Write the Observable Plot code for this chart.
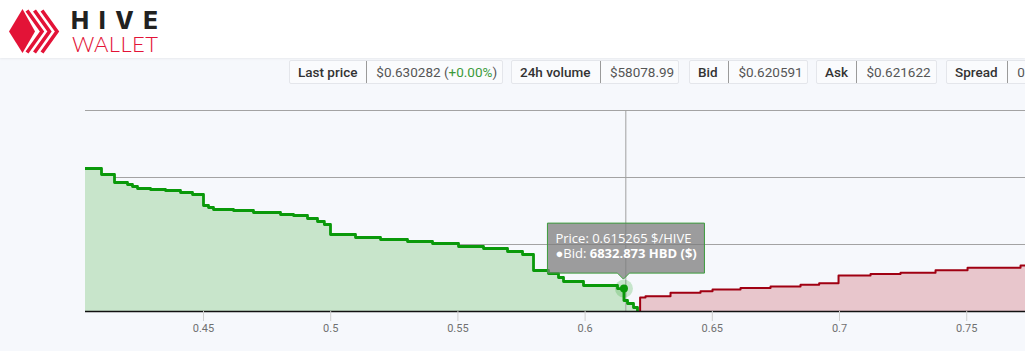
<!DOCTYPE html>
<html>
<head>
<meta charset="utf-8">
<script src="https://cdn.jsdelivr.net/npm/d3@7"></script>
<script src="https://cdn.jsdelivr.net/npm/@observablehq/plot@0.6"></script>
<style>
  html, body { margin: 0; padding: 0; }
  body { width: 1025px; height: 351px; overflow: hidden; position: relative; background: #f6f8fc; font-family: Roboto, "Noto Sans", sans-serif; }
  #header { position: absolute; left: 0; top: 0; width: 1025px; height: 58px; background: #fff; box-shadow: 0 1px 2px rgba(0,0,0,0.06); }
  .stat { position: absolute; top: 60px; height: 24px; display: flex; background: #fafbfd; border: 1px solid #e4e6eb; border-radius: 2px; box-sizing: border-box; font-size: 13.5px; line-height: 22px; white-space: nowrap; overflow: hidden; }
  .stat .lab { box-sizing: border-box; padding-left: 8px; color: #333; font-weight: 500; }
  .stat .val { box-sizing: border-box; padding-left: 9px; color: #555; border-left: 1px solid #9a9a9a; margin: 0; }
  .stat .pos { color: #3a9a3a; }
  #chart { position: absolute; left: 0; top: 90px; }
</style>
</head>
<body>
<div id="header">
  <svg width="200" height="58" style="position:absolute;left:0;top:0">
    <polygon points="9,31.5 22.5,9 35,31.5 22.5,53" fill="#e31337"/>
    <polyline points="27,10.5 42,31.5 27,52.5" fill="none" stroke="#e31337" stroke-width="3.6"/>
    <polyline points="34.5,10.5 49.5,31.5 34.5,52.5" fill="none" stroke="#e31337" stroke-width="3.6"/>
    <polyline points="42,10.5 57,31.5 42,52.5" fill="none" stroke="#e31337" stroke-width="3.6"/>
    <text x="71" y="28.5" font-family="Inter, 'DejaVu Sans', sans-serif" font-weight="800" font-size="24" fill="#212121" textLength="87" lengthAdjust="spacing">HIVE</text>
    <text x="72" y="52" font-family="Lato, 'Open Sans', sans-serif" font-weight="300" font-size="22" fill="#e31337" textLength="86" lengthAdjust="spacing">WALLET</text>
  </svg>
</div>
<div id="stats"></div>
<div id="chart"></div>
<script>
// ---- data ----
const statLabels = ["Last price", "24h volume", "Bid", "Ask", "Spread"];
const statValues = ["$0.630282", "$58078.99", "$0.620591", "$0.621622", "0.166%"];
const lastChange = "+0.00%";

// bid depth (price, cumulative HBD), level to the left of each price
const bidPrices = [0.40, 0.40991, 0.41502, 0.42013, 0.42209, 0.42406, 0.42917, 0.43506, 0.44096, 0.44568, 0.45000, 0.45197, 0.45393, 0.46179, 0.46965, 0.48027, 0.48538, 0.49088, 0.49481, 0.49750, 0.49992, 0.50975, 0.51958, 0.53019, 0.54002, 0.55024, 0.56006, 0.56950, 0.57540, 0.57972, 0.58561, 0.58954, 0.59151, 0.59937, 0.61274, 0.615265, 0.61667, 0.61902, 0.620591, 0.620591];
const bidVolumes = [42686, 42686, 40895, 38507, 37910, 37313, 36716, 36417, 36119, 35522, 34925, 31641, 31044, 30447, 30149, 29552, 28955, 28656, 27761, 26865, 25970, 22985, 22089, 21492, 20895, 20298, 19403, 18806, 17910, 17015, 12239, 11343, 10149, 8955, 7761, 6832.873, 3283, 2388, 1200, 0];

// ask depth (price, cumulative HBD), level to the right of each price
const askPrices = [0.621622, 0.621622, 0.62374, 0.63357, 0.64536, 0.65008, 0.66109, 0.67288, 0.68467, 0.69200, 0.69961, 0.71219, 0.72398, 0.73774, 0.75032, 0.77115, 0.78];
const askVolumes = [0, 4179, 4567, 5582, 6060, 6567, 7015, 7492, 7970, 8400, 10746, 11164, 11552, 12300, 13044, 13731, 13731];

const xTicks = [0.45, 0.5, 0.55, 0.6, 0.65, 0.7, 0.75];
const gridValues = [20000, 40000, 60000];
const xDomain = [0.40362, 0.7731];
const yDomain = [0, 60000];
const hoverPrice = 0.615265;
const hoverBid = 6832.873;
const cursorPrice = 0.6160;

// ---- stats bar ----
const statLeft = [289, 511, 689, 816, 946];
const statLabW = [77, 89, 39, 40, 61];
const statValW = [137, 79, 80, 81, 120];
const statsEl = document.getElementById("stats");
statLabels.forEach((lab, i) => {
  const box = document.createElement("div");
  box.className = "stat";
  box.style.left = statLeft[i] + "px";
  box.style.width = (statLabW[i] + statValW[i]) + "px";
  const l = document.createElement("div");
  l.className = "lab"; l.style.width = statLabW[i] + "px"; l.textContent = lab;
  const v = document.createElement("div");
  v.className = "val"; v.style.width = statValW[i] + "px";
  if (i === 0) {
    v.innerHTML = statValues[i] + " (<span class='pos'>" + lastChange + "</span>)";
  } else v.textContent = statValues[i];
  box.appendChild(l); box.appendChild(v);
  statsEl.appendChild(box);
});

// ---- chart ----
const bids = bidPrices.map((p, i) => ({price: p, vol: bidVolumes[i]}));
const asks = askPrices.map((p, i) => ({price: p, vol: askVolumes[i]}));
const hover = [{price: hoverPrice, vol: hoverBid}];

const green = "#0a990a", red = "#a00012";
const plot = Plot.plot({
  width: 1025, height: 261,
  marginTop: 20, marginBottom: 40, marginLeft: 85, marginRight: 0,
  style: {background: "transparent", fontFamily: "Roboto, sans-serif", fontSize: "11px", overflow: "visible"},
  x: {domain: xDomain, label: null},
  y: {domain: yDomain, axis: null, label: null},
  marks: [
    Plot.gridY(gridValues, {stroke: "#a3a3a3", strokeOpacity: 1, strokeWidth: 1}),
    Plot.areaY(bids, {x: "price", y: "vol", curve: "step-before", fill: "#c8e5cb", clip: true}),
    Plot.areaY(asks, {x: "price", y: "vol", curve: "step-after", fill: "#e8c6cc", clip: true}),
    Plot.ruleX([cursorPrice], {y1: yDomain[0], y2: yDomain[1], stroke: "#a0a0a0", strokeWidth: 1}),
    Plot.lineY(bids, {x: "price", y: "vol", curve: "step-before", stroke: green, strokeWidth: 2.8, clip: true}),
    Plot.lineY(asks, {x: "price", y: "vol", curve: "step-after", stroke: red, strokeWidth: 2, clip: true}),
    Plot.ruleY([0], {stroke: "#111", strokeWidth: 1.5}),
    Plot.axisX({ticks: xTicks, tickFormat: d => String(d), tickSize: 10, tickPadding: 3, stroke: "#cfcfcf", fill: "#707070", label: null}),
    Plot.dot(hover, {x: "price", y: "vol", r: 9, fill: green, fillOpacity: 0.2}),
    Plot.dot(hover, {x: "price", y: "vol", r: 4, fill: green})
  ]
});
document.getElementById("chart").appendChild(plot);

// tooltip anchored through the scales
const sx = plot.scale("x"), sy = plot.scale("y");
const px = sx.apply(hoverPrice), py = sy.apply(hoverBid);
const W = 157, H = 50;
const L = px - 76, B = py - 15, T = B - H, R = L + W;
const svg = d3.select(plot);
const g = svg.append("g").attr("text-anchor", "start");
g.append("path")
  .attr("d", `M${L},${T}H${R}V${B}H${px + 6}L${px},${B + 6}L${px - 6},${B}H${L}Z`)
  .attr("fill", "rgba(124,124,124,0.74)")
  .attr("stroke", "#3c9c3c").attr("stroke-width", 1);
g.append("text").attr("x", L + 8).attr("y", T + 20).attr("text-anchor", "start")
  .attr("fill", "#fff")
  .style("font-family", "'Open Sans', sans-serif").style("font-size", "13px")
  .text(`Price: ${hoverPrice} $/HIVE`);
const t2 = g.append("text").attr("x", L + 8).attr("y", T + 35).attr("text-anchor", "start")
  .attr("fill", "#fff")
  .style("font-family", "'Open Sans', sans-serif").style("font-size", "13px");
t2.append("tspan").text("\u25CFBid: ");
t2.append("tspan").style("font-weight", "bold").text(`${hoverBid} HBD ($)`);
</script>
</body>
</html>
